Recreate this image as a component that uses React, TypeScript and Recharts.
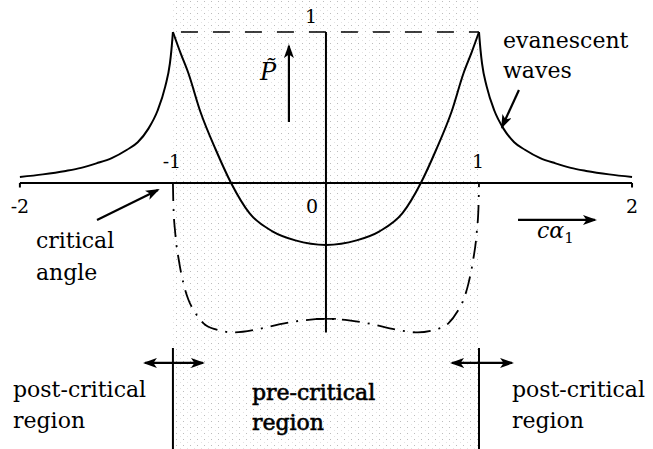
import React from 'react';
import { ComposedChart, Line, Scatter, XAxis, YAxis, ReferenceLine, ReferenceArea } from 'recharts';

const W = 653;
const H = 449;
const SERIF = '"DejaVu Serif", serif';

// Post-critical (evanescent) branch, c·α1 < -1
const evanescentLeftX = [-2.0, -1.85, -1.7, -1.6, -1.5, -1.4, -1.3, -1.23, -1.16, -1.1, -1.05, -1.02, -1.01, -1.0];
const evanescentLeftP = [0.04, 0.057, 0.08, 0.1, 0.13, 0.165, 0.22, 0.27, 0.36, 0.48, 0.64, 0.79, 0.88, 1.0];

// Pre-critical branch, -1 <= c·α1 <= 1
const preCriticalX = [-1.0, -0.95, -0.9, -0.82, -0.72, -0.62, -0.5, -0.35, -0.2, 0, 0.2, 0.35, 0.5, 0.62, 0.72, 0.82, 0.9, 0.95, 1.0];
const preCriticalP = [1.0, 0.86, 0.73, 0.47, 0.22, 0.0, -0.2, -0.32, -0.38, -0.41, -0.38, -0.32, -0.2, 0.0, 0.22, 0.47, 0.73, 0.86, 1.0];

// Post-critical (evanescent) branch, c·α1 > 1
const evanescentRightX = [1.0, 1.01, 1.02, 1.05, 1.1, 1.16, 1.23, 1.3, 1.4, 1.5, 1.6, 1.7, 1.85, 2.0];
const evanescentRightP = [1.0, 0.88, 0.79, 0.64, 0.48, 0.36, 0.27, 0.22, 0.165, 0.13, 0.1, 0.08, 0.057, 0.04];

// Dash-dot curve inside the pre-critical region
const dashDotX = [-1.0, -0.997, -0.985, -0.96, -0.93, -0.9, -0.86, -0.8, -0.72, -0.6, -0.45, -0.3, -0.15, 0, 0.15, 0.3, 0.45, 0.6, 0.72, 0.8, 0.86, 0.9, 0.93, 0.96, 0.985, 0.997, 1.0];
const dashDotP = [0.0, -0.15, -0.33, -0.52, -0.67, -0.77, -0.85, -0.93, -0.97, -0.99, -0.97, -0.935, -0.91, -0.9, -0.91, -0.935, -0.97, -0.99, -0.97, -0.93, -0.85, -0.77, -0.67, -0.52, -0.33, -0.15, 0.0];

// Axis ticks
const tickValues = [-2, -1, 0, 1, 2];
const tickLabels = ['-2', '-1', '0', '1', '2'];
const pUnitLabel = '1';

// Text annotations (anchor = left end of the baseline, in chart units)
const annotationText = ['evanescent', 'waves', 'critical', 'angle', 'post-critical', 'region', 'pre-critical', 'region', 'post-critical', 'region'];
const annotationX = [1.157, 1.157, -1.895, -1.895, -2.045, -2.045, -0.484, -0.484, 1.215, 1.215];
const annotationY = [0.894, 0.695, -0.431, -0.642, -1.417, -1.623, -1.437, -1.636, -1.417, -1.623];
const annotationHeavy = [false, false, false, false, false, false, true, true, false, false];

// Arrows: [x1, y1, x2, y2] in chart units, head at the second point
const arrowSegments = [
  [-0.242, 0.404, -0.242, 0.907],
  [1.255, -0.245, 1.758, -0.245],
  [-1.496, -0.245, -1.098, -0.046],
  [1.261, 0.616, 1.15, 0.371],
];
const doubleArrowSegments = [
  [-1.183, -1.192, -0.804, -1.192],
  [0.824, -1.192, 1.216, -1.192],
];

const zip = (xs: number[], ys: number[]) => xs.map((x, i) => ({ x, y: ys[i] }));

const evanescentLeft = zip(evanescentLeftX, evanescentLeftP);
const preCritical = zip(preCriticalX, preCriticalP);
const evanescentRight = zip(evanescentRightX, evanescentRightP);
const dashDot = zip(dashDotX, dashDotP);

const tickData = tickValues.map((v, i) => ({ x: v, y: 0, label: tickLabels[i] }));
const annotations = annotationText.map((t, i) => ({ x: annotationX[i], y: annotationY[i], label: t, heavy: annotationHeavy[i] }));

const tickOffset = (v: number) => {
  if (v === 0) return { dx: -14, dy: 30 };
  if (Math.abs(v) === 1) return { dx: -1, dy: -15 };
  return { dx: 0, dy: 30 };
};

const TickLabel = (props: any) => {
  const { cx, cy, payload } = props;
  const { dx, dy } = tickOffset(payload.x);
  return (
    <text x={cx + dx} y={cy + dy} textAnchor="middle" style={{ fontFamily: SERIF, fontSize: 19 }} fill="#000">
      {payload.label}
    </text>
  );
};

const AnnotationLabel = (props: any) => {
  const { cx, cy, payload } = props;
  return (
    <text x={cx} y={cy} style={{ fontFamily: SERIF, fontSize: 22 }} fill="#000"
      stroke={payload.heavy ? '#000' : 'none'} strokeWidth={payload.heavy ? 0.6 : 0}>
      {payload.label}
    </text>
  );
};

const PLabel = (props: any) => {
  const { cx, cy } = props;
  return (
    <text x={cx} y={cy} style={{ fontFamily: SERIF, fontStyle: 'italic', fontSize: 24 }} fill="#000">
      {'P\u0303'}
    </text>
  );
};

const CAlphaLabel = (props: any) => {
  const { cx, cy } = props;
  return (
    <text x={cx} y={cy} style={{ fontFamily: SERIF, fontStyle: 'italic', fontSize: 22 }} fill="#000">
      {'c\u03b1'}
      <tspan style={{ fontStyle: 'normal', fontSize: 15 }} dy={5}>1</tspan>
    </text>
  );
};

const PUnitLabel = (props: any) => {
  const { cx, cy } = props;
  return (
    <text x={cx - 15} y={cy - 9} textAnchor="middle" style={{ fontFamily: SERIF, fontSize: 19 }} fill="#000">
      {pUnitLabel}
    </text>
  );
};

const segData = (s: number[]) => [
  { x: s[0], y: s[1] },
  { x: s[2], y: s[3] },
];

export default function App() {
  return (
    <div style={{ position: 'absolute', left: 0, top: 0, background: '#fff' }}>
      <ComposedChart width={W} height={H} margin={{ top: 0, right: 0, bottom: 0, left: 0 }}>
        <defs>
          <pattern id="stipple" width="7" height="6" patternUnits="userSpaceOnUse">
            <rect x="1" y="1" width="1" height="1" fill="#bcbcbc" />
            <rect x="5" y="4" width="1" height="1" fill="#e2e2e2" />
          </pattern>
          <marker id="head" viewBox="0 0 14 10" refX="12" refY="5" markerWidth="14" markerHeight="10"
            markerUnits="userSpaceOnUse" orient="auto-start-reverse">
            <path d="M0,0 L14,5 L0,10 L3.5,5 Z" fill="#000" />
          </marker>
        </defs>
        <XAxis type="number" dataKey="x" domain={[-2.13, 2.137]} allowDataOverflow hide />
        <YAxis type="number" dataKey="y" domain={[-1.762, 1.212]} allowDataOverflow hide />

        <ReferenceArea x1={-1} x2={1} y1={-1.762} y2={1.212} fill="url(#stipple)" fillOpacity={1} stroke="none" />

        {/* axes */}
        <ReferenceLine segment={[{ x: -2, y: 0 }, { x: 2, y: 0 }]} stroke="#000" strokeWidth={2} />
        <ReferenceLine segment={[{ x: 0, y: 1 }, { x: 0, y: -0.99 }]} stroke="#000" strokeWidth={2} />
        <ReferenceLine segment={[{ x: -2, y: 0 }, { x: -2, y: -0.03 }]} stroke="#000" strokeWidth={2} />
        <ReferenceLine segment={[{ x: 2, y: 0 }, { x: 2, y: -0.03 }]} stroke="#000" strokeWidth={2} />
        <ReferenceLine segment={[{ x: -1, y: 1 }, { x: 1, y: 1 }]} stroke="#000" strokeWidth={1.6}
          strokeDasharray="17 15" strokeDashoffset={24} />
        <ReferenceLine segment={[{ x: -0.065, y: -0.9 }, { x: 0.065, y: -0.9 }]} stroke="#000" strokeWidth={1.6} />

        {/* region boundaries */}
        <ReferenceLine segment={[{ x: -1, y: -1.093 }, { x: -1, y: -1.762 }]} stroke="#000" strokeWidth={2} />
        <ReferenceLine segment={[{ x: 1, y: -1.093 }, { x: 1, y: -1.762 }]} stroke="#000" strokeWidth={2} />

        <Line data={evanescentLeft} dataKey="y" type="monotone" stroke="#000" strokeWidth={2} dot={false} activeDot={false} isAnimationActive={false} />
        <Line data={preCritical} dataKey="y" type="monotone" stroke="#000" strokeWidth={2} dot={false} activeDot={false} isAnimationActive={false} />
        <Line data={evanescentRight} dataKey="y" type="monotone" stroke="#000" strokeWidth={2} dot={false} activeDot={false} isAnimationActive={false} />
        <Line data={dashDot} dataKey="y" type="monotone" stroke="#000" strokeWidth={1.8} strokeDasharray="18 8 2 8" dot={false} activeDot={false} isAnimationActive={false} />

        {arrowSegments.map((s, i) => (
          <Line key={`a${i}`} data={segData(s)} dataKey="y" type="linear" stroke="#000" strokeWidth={2.2}
            markerEnd="url(#head)" dot={false} activeDot={false} isAnimationActive={false} />
        ))}
        {doubleArrowSegments.map((s, i) => (
          <Line key={`d${i}`} data={segData(s)} dataKey="y" type="linear" stroke="#000" strokeWidth={2.2}
            markerStart="url(#head)" markerEnd="url(#head)" dot={false} activeDot={false} isAnimationActive={false} />
        ))}

        <Scatter data={tickData} dataKey="y" shape={TickLabel} isAnimationActive={false} />
        <Scatter data={[{ x: 0, y: 1 }]} dataKey="y" shape={PUnitLabel} isAnimationActive={false} />
        <Scatter data={annotations} dataKey="y" shape={AnnotationLabel} isAnimationActive={false} />
        <Scatter data={[{ x: -0.431, y: 0.682 }]} dataKey="y" shape={PLabel} isAnimationActive={false} />
        <Scatter data={[{ x: 1.379, y: -0.364 }]} dataKey="y" shape={CAlphaLabel} isAnimationActive={false} />
      </ComposedChart>
    </div>
  );
}
